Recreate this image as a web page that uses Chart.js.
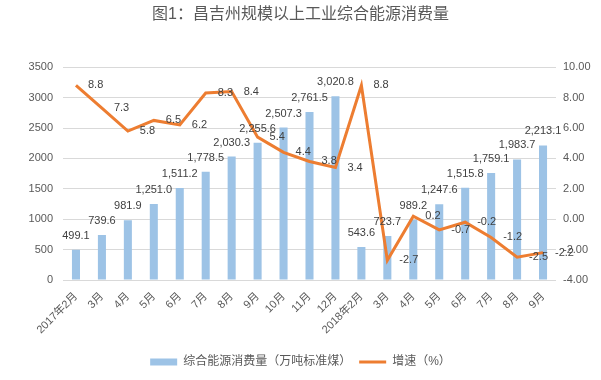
<!DOCTYPE html>
<html>
<head>
<meta charset="utf-8">
<script src="https://cdn.jsdelivr.net/npm/chart.js@4/dist/chart.umd.min.js"></script>
<style>
html,body{margin:0;padding:0;background:#fff;}
#wrap{width:601px;height:380px;position:relative;}
</style>
</head>
<body>
<div id="wrap"><canvas id="c" width="601" height="380"></canvas></div>
<script>
const categories = ['2017年2月','3月','4月','5月','6月','7月','8月','9月','10月','11月','12月','2018年2月','3月','4月','5月','6月','7月','8月','9月'];
const energy = [499.1,739.6,981.9,1251.0,1511.2,1778.5,2030.3,2255.6,2507.3,2761.5,3020.8,543.6,723.7,989.2,1247.6,1515.8,1759.1,1983.7,2213.1];
const growth = [8.8,7.3,5.8,6.5,6.2,8.3,8.4,5.4,4.4,3.8,3.4,8.8,-2.7,0.2,-0.7,-0.2,-1.2,-2.5,-2.2];
const seriesNames = ['综合能源消费量（万吨标准煤）','增速（%）'];
const titleText = '图1：昌吉州规模以上工业综合能源消费量';

const FONT = '"Liberation Sans", "Noto Sans CJK SC", sans-serif';
const fmt = v => v.toLocaleString('en-US',{minimumFractionDigits:1,maximumFractionDigits:1});

const labelPlugin = {
  id:'vlabels',
  afterDatasetsDraw(chart){
    const ctx = chart.ctx;
    ctx.save();
    ctx.font = '11px ' + FONT;
    ctx.fillStyle = '#404040';
    ctx.textBaseline = 'middle';
    ctx.textAlign = 'center';
    chart.getDatasetMeta(0).data.forEach((el,i)=>{
      ctx.fillText(fmt(energy[i]), el.x, el.y - 14);
    });
    ctx.textAlign = 'left';
    chart.getDatasetMeta(1).data.forEach((el,i)=>{
      ctx.fillText(growth[i].toFixed(1), el.x + 12, el.y);
    });
    ctx.restore();
  }
};

new Chart(document.getElementById('c'), {
  data: {
    labels: categories,
    datasets: [
      {type:'bar', label: seriesNames[0], data: energy, yAxisID:'y',
       backgroundColor:'#9DC3E6', borderWidth:0, barPercentage:0.62, categoryPercentage:0.5,
       order:1, pointStyle:'rect'},
      {type:'line', label: seriesNames[1], data: growth, yAxisID:'y2',
       borderColor:'#ED7D31', backgroundColor:'#ED7D31', borderWidth:3, tension:0,
       pointRadius:0, pointStyle:'line', order:0, borderJoinStyle:'miter'}
    ]
  },
  options: {
    responsive:false,
    animation:false,
    layout:{padding:{left:0,right:0,top:0,bottom:2}},
    plugins:{
      title:{display:true, text:titleText, color:'#595959',
        font:{size:16, family:FONT, weight:'normal'}, padding:{top:5,bottom:43}},
      legend:{position:'bottom',
        labels:{usePointStyle:true, pointStyleWidth:27, boxHeight:7, color:'#595959',
          font:{size:12, family:FONT}, padding:8,
          sort:(a,b)=>a.datasetIndex-b.datasetIndex}},
      tooltip:{enabled:false}
    },
    scales:{
      x:{
        grid:{display:false}, border:{display:false},
        ticks:{color:'#595959', font:{size:11, family:FONT}, minRotation:45, maxRotation:45, autoSkip:false, padding:2},
        afterFit(s){ s.height = 68; }
      },
      y:{
        position:'left', min:0, max:3500,
        grid:{color:'#D9D9D9', drawTicks:false}, border:{display:false},
        ticks:{stepSize:500, color:'#595959', font:{size:11, family:FONT}, padding:10,
          callback:v=>String(v)},
        afterFit(s){ s.width = 63; }
      },
      y2:{
        position:'right', min:-4, max:10,
        grid:{display:false, drawTicks:false}, border:{display:false},
        ticks:{stepSize:2, color:'#595959', font:{size:11, family:FONT}, padding:7,
          callback:v=>Number(v).toFixed(2)},
        afterFit(s){ s.width = 45; }
      }
    }
  },
  plugins:[labelPlugin]
});
</script>
</body>
</html>
